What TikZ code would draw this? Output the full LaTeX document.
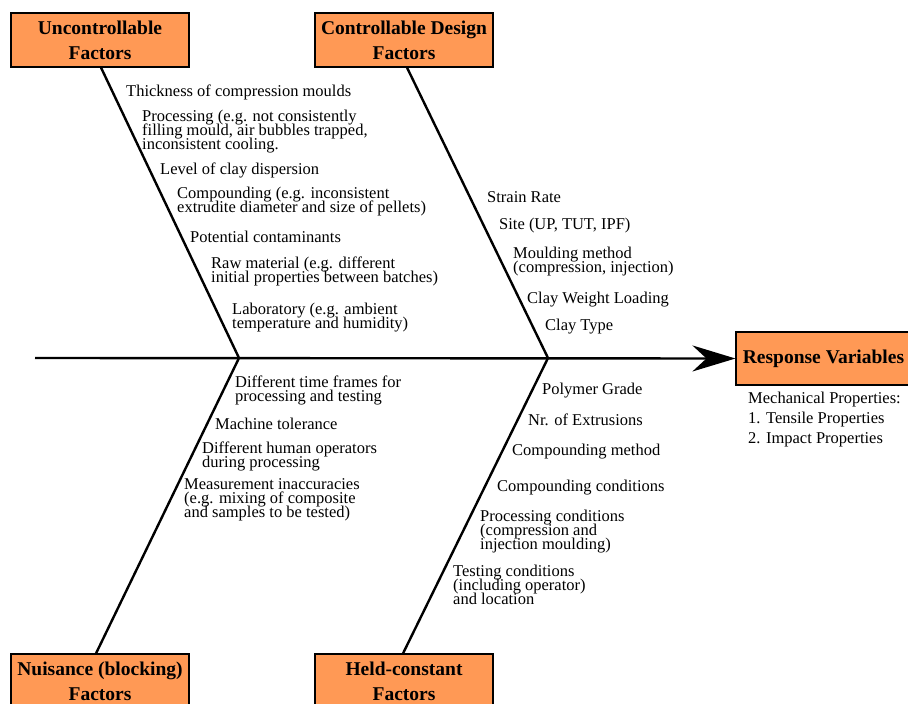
\documentclass[tikz,border=0pt]{standalone}
\usepackage{fontspec}
\setmainfont{Liberation Serif}
\usetikzlibrary{arrows.meta,calc}
\definecolor{boxorange}{HTML}{FF9955}
% fixed line spacing, whatever the height of the glyphs
\newcommand\fixedlinespacing{\lineskiplimit=-30pt\relax}
\begin{document}
\begin{tikzpicture}[x=1pt,y=-1pt,
  factorbox/.style={draw=black, line width=1.1pt, fill=boxorange,
    minimum width=178pt, minimum height=54pt, inner sep=0pt, align=center,
    font={\fontsize{19.5}{25}\selectfont\bfseries\fixedlinespacing}},
  bone/.style={line width=2.4pt, draw=black},
  % placed at the baseline of the last line of each label
  cause/.style={anchor=base west, inner sep=0pt, align=left,
    font={\fontsize{16.5}{14.2}\selectfont\fixedlinespacing}},
]
\useasboundingbox (0,0) rectangle (908,704);

% category boxes
\node[factorbox] (unc)  at (100,40)  {Uncontrollable\\Factors};
\node[factorbox] (ctl)  at (404,40)  {Controllable Design\\Factors};
\node[factorbox] (nui)  at (100,681) {Nuisance (blocking)\\Factors};
\node[factorbox] (held) at (404,681) {Held-constant\\Factors};
\node[factorbox, minimum width=175pt, minimum height=53pt] (resp) at (823.5,358.5) {Response Variables};

% spine and bones
\coordinate (tail) at (35,358);
\coordinate (j1) at (239,358);
\coordinate (j2) at (548,358);
\draw[bone, -{Stealth[length=43pt,width=26pt,inset=14pt]}] (tail) -- (resp.west);
\draw[bone] ([xshift=1pt]unc.south) -- (j1);
\draw[bone] ([xshift=3pt]ctl.south) -- (j2);
\draw[bone] ([xshift=-4pt]nui.north) -- (j1);
\draw[bone] ([xshift=-1pt]held.north) -- (j2);

% uncontrollable factors
\node[cause] (u1) at (126,96)    {Thickness of compression moulds};
\node[cause] (u2) at (142,149.4) {Processing (e.g. not consistently\\filling mould, air bubbles trapped,\\inconsistent cooling.};
\node[cause] (u3) at (160,174)   {Level of clay dispersion};
\node[cause] (u4) at (177,212.2) {Compounding (e.g. inconsistent\\extrudite diameter and size of pellets)};
\node[cause] (u5) at (190,242)   {Potential contaminants};
\node[cause] (u6) at (211,282.2) {Raw material (e.g. different\\initial properties between batches)};
\node[cause] (u7) at (232,328.2) {Laboratory (e.g. ambient\\temperature and humidity)};

% controllable design factors
\node[cause] (c1) at (487,202)   {Strain Rate};
\node[cause] (c2) at (499,229)   {Site (UP, TUT, IPF)};
\node[cause] (c3) at (513,272.2) {Moulding method\\(compression, injection)};
\node[cause] (c4) at (527,303)   {Clay Weight Loading};
\node[cause] (c5) at (545,330)   {Clay Type};

% nuisance factors
\node[cause] (n1) at (235,401.2) {Different time frames for\\processing and testing};
\node[cause] (n2) at (215,429)   {Machine tolerance};
\node[cause] (n3) at (202,467.2) {Different human operators\\during processing};
\node[cause] (n4) at (184,517.4) {Measurement inaccuracies\\(e.g. mixing of composite\\and samples to be tested)};

% held-constant factors
\node[cause] (h1) at (542,394)   {Polymer Grade};
\node[cause] (h2) at (528,425)   {Nr. of Extrusions};
\node[cause] (h3) at (512,455)   {Compounding method};
\node[cause] (h4) at (497,491)   {Compounding conditions};
\node[cause] (h5) at (480,549.4) {Processing conditions\\(compression and\\injection moulding)};
\node[cause] (h6) at (453,604.4) {Testing conditions\\(including operator)\\and location};

% response details
\node[cause, font={\fontsize{16.5}{20.3}\selectfont\fixedlinespacing}] (r1) at (748,443.6) {Mechanical Properties:\\1. Tensile Properties\\2. Impact Properties};
\end{tikzpicture}
\end{document}
